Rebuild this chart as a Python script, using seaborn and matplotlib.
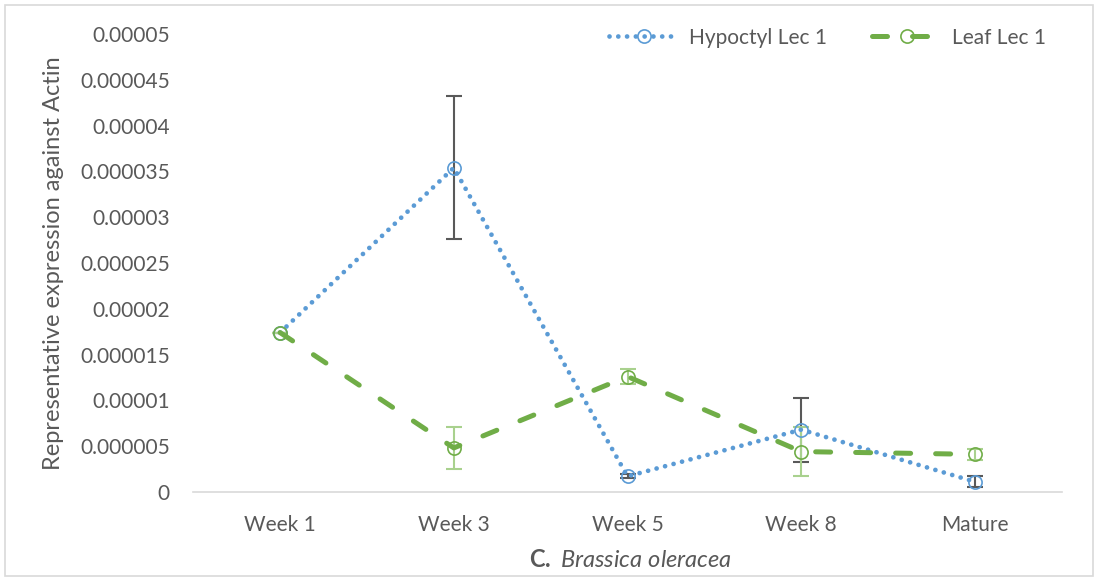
import numpy as np
import pandas as pd
import matplotlib.pyplot as plt
import seaborn as sns
from matplotlib.patches import Rectangle

semanas = ["Week 1", "Week 3", "Week 5", "Week 8", "Mature"]
hipocotilo = [1.74e-5, 3.54e-5, 0.17e-5, 0.68e-5, 0.11e-5]
hipocotilo_err = [0.0, 0.78e-5, 0.02e-5, 0.35e-5, 0.06e-5]
folha = [1.74e-5, 0.48e-5, 1.26e-5, 0.44e-5, 0.41e-5]
folha_err = [0.0, 0.23e-5, 0.08e-5, 0.27e-5, 0.06e-5]
yticks = [0, 0.000005, 0.00001, 0.000015, 0.00002, 0.000025, 0.00003,
          0.000035, 0.00004, 0.000045, 0.00005]
ytick_labels = ["0", "0.000005", "0.00001", "0.000015", "0.00002", "0.000025",
                "0.00003", "0.000035", "0.00004", "0.000045", "0.00005"]

sns.set_style("white")
plt.rcParams['font.family'] = ['Lato', 'DejaVu Sans']
plt.rcParams['mathtext.fontset'] = 'custom'
plt.rcParams['mathtext.bf'] = 'Lato:bold'
plt.rcParams['mathtext.it'] = 'Lato:italic'
plt.rcParams['mathtext.rm'] = 'Lato'

cinza = "#595959"
azul = "#5B9BD5"
verde = "#70AD47"

fig = plt.figure(figsize=(10.98, 5.78), dpi=100)
ax = fig.add_axes([0.176, 0.149, 0.791, 0.792])

df = pd.DataFrame({"semana": semanas, "hip": hipocotilo, "folha": folha})

# barras de erro primeiro, por baixo das linhas
ax.errorbar(semanas, hipocotilo, yerr=hipocotilo_err, fmt="none", ecolor=cinza,
            elinewidth=1.5, capsize=6, capthick=1.5, zorder=1)
ax.errorbar(semanas, folha, yerr=folha_err, fmt="none", ecolor="#A9D18E",
            elinewidth=1.5, capsize=6, capthick=1.5, zorder=1)

sns.lineplot(data=df, x="semana", y="hip", ax=ax, color=azul, lw=3.4,
             linestyle=(0, (0.01, 1.85)), dash_capstyle="round",
             marker="o", markersize=9.5, markerfacecolor="none",
             markeredgecolor=azul, markeredgewidth=1.2,
             label="Hypoctyl Lec 1", zorder=3)
sns.lineplot(data=df, x="semana", y="folha", ax=ax, color=verde, lw=3.6,
             linestyle=(0, (3, 5)), dash_capstyle="round",
             marker="o", markersize=9.5, markerfacecolor="none",
             markeredgecolor=verde, markeredgewidth=1.2,
             label="Leaf Lec 1", zorder=3)

ax.set_xlim(-0.5, 4.5)
ax.set_ylim(0, 0.00005)
ax.set_yticks(yticks)
ax.set_yticklabels(ytick_labels)
ax.tick_params(axis="both", length=0, labelsize=15, colors=cinza)
ax.tick_params(axis="x", pad=17)
ax.tick_params(axis="y", pad=17)
for lado in ["top", "right", "left"]:
    ax.spines[lado].set_visible(False)
ax.spines["bottom"].set_color("#D9D9D9")
ax.spines["bottom"].set_linewidth(1.2)

ax.set_ylabel("Representative expression against Actin", fontsize=17, color=cinza)
ax.set_xlabel(r"$\mathbf{C.}\ \mathit{Brassica\ oleracea}$", fontsize=17, color=cinza)
ax.yaxis.set_label_coords(-0.161, 0.5)
ax.yaxis.label.set_va("center")
ax.xaxis.set_label_coords(0.503, -0.148)
ax.xaxis.label.set_va("center")

ax.legend(loc="upper right", bbox_to_anchor=(1.003, 1.055), ncol=2, frameon=False,
          fontsize=15, handlelength=3.3, columnspacing=2.2, handletextpad=0.5,
          labelcolor=cinza)

fig.patches.append(Rectangle((0.005, 0.003), 0.99, 0.988, transform=fig.transFigure,
                             fill=False, edgecolor="#D9D9D9", lw=1.2))

plt.savefig("out.png", dpi=100)
